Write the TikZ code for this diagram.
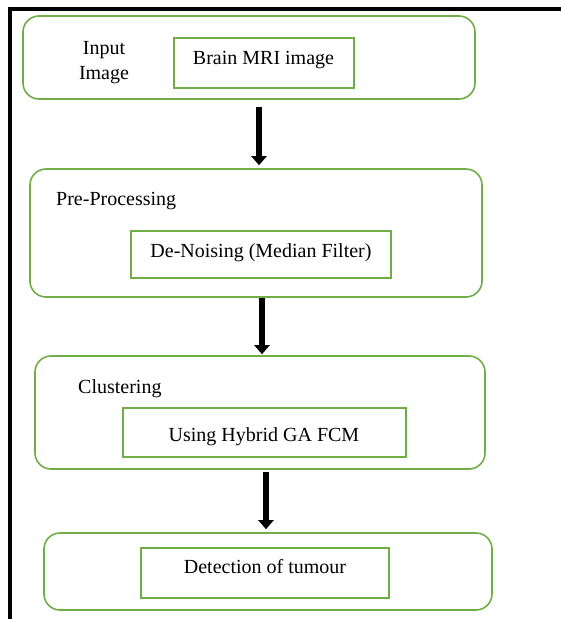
\documentclass[tikz,border=0pt]{standalone}
\usepackage{fontspec}
\setmainfont{Liberation Serif}
\usetikzlibrary{positioning,arrows.meta}
\definecolor{boxgreen}{HTML}{70AD47}
\tikzset{
  stage/.style={draw=boxgreen, line width=1.6pt, rounded corners=16pt, inner sep=0pt},
  task/.style={draw=boxgreen, line width=1.6pt, inner sep=0pt},
  txt/.style={font=\fontsize{20}{25}\selectfont, inner sep=0pt, anchor=base},
  flow/.style={line width=6pt, -{Triangle[width=15pt,length=9pt]}}
}

\begin{document}
\begin{tikzpicture}[x=1pt,y=-1pt]
\useasboundingbox (0,0) rectangle (561,619);
\draw[line width=4pt] (9.5,619) -- (9.5,9) -- (561,9);

\node[stage, minimum width=452pt, minimum height=83pt] (input) at (249,57.5) {};
\node[task, minimum width=180pt, minimum height=50pt] (mri) at (264,63) {};
\node[txt, align=center] (inputlbl) at (104,79) {Input\\Image};
\node[txt] (mrilbl) at (263.5,64) {Brain MRI image};

\node[stage, minimum width=452pt, minimum height=128pt] (preproc) at (256,233) {};
\node[task, minimum width=260pt, minimum height=47pt] (denoise) at (261,254.5) {};
\node[txt, anchor=base west] (preproclbl) at (56,205) {Pre-Processing};
\node[txt] (denoiselbl) at (261,257) {De-Noising (Median Filter)};

\node[stage, minimum width=450pt, minimum height=113pt] (cluster) at (260,412.5) {};
\node[task, minimum width=283pt, minimum height=49pt] (hybrid) at (264.5,432.5) {};
\node[txt, anchor=base west] (clusterlbl) at (78,393) {Clustering};
\node[txt] (hybridlbl) at (264,441) {Using Hybrid GA FCM};

\node[stage, minimum width=448pt, minimum height=77pt] (detect) at (268,571.5) {};
\node[task, minimum width=248pt, minimum height=50pt] (tumour) at (265,573) {};
\node[txt] (tumourlbl) at (265,573) {Detection of tumour};

\coordinate (a1) at (259,107);
\coordinate (a2) at (262,298);
\coordinate (a3) at (266,472);
\draw[flow, shorten >=3pt] (a1) -- (a1 |- preproc.north);
\draw[flow, shorten >=1pt] (a2) -- (a2 |- cluster.north);
\draw[flow, shorten >=3pt] (a3) -- (a3 |- detect.north);
\end{tikzpicture}
\end{document}
